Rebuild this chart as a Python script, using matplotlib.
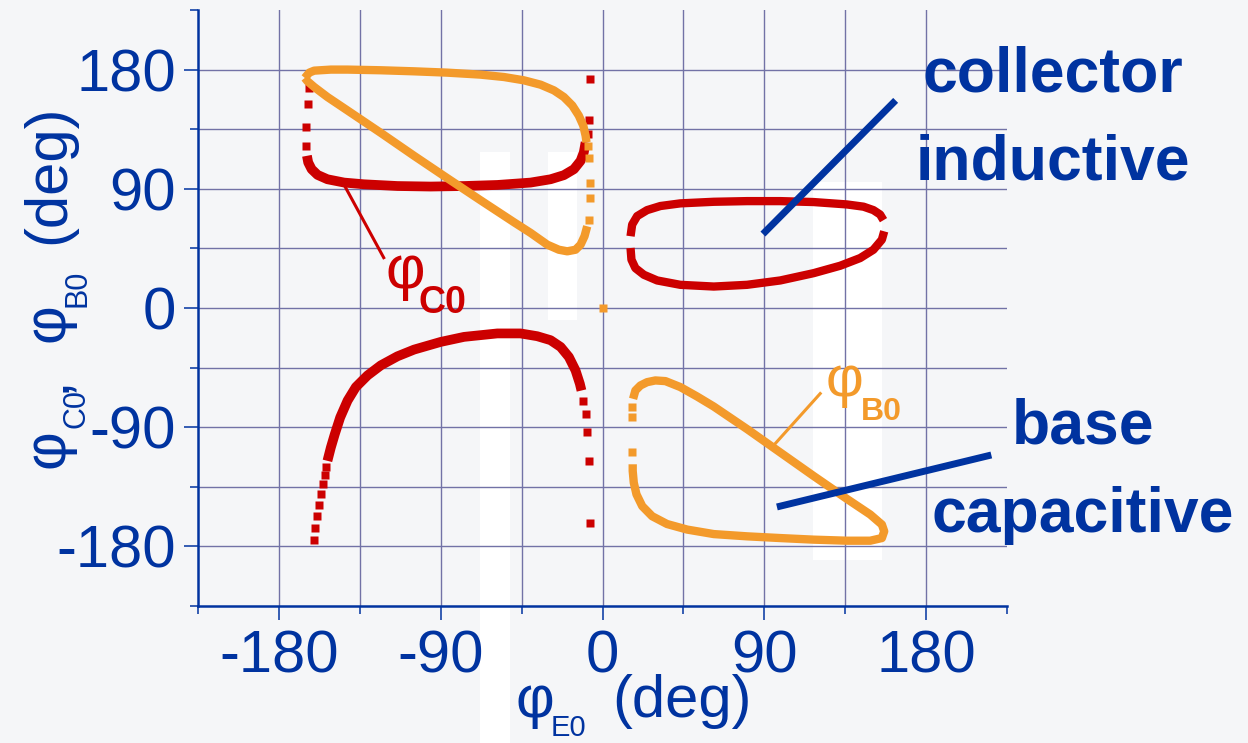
import numpy as np
import matplotlib
matplotlib.use("Agg")
import matplotlib.pyplot as plt
from matplotlib.patches import Rectangle

plt.rcParams['font.family'] = ['Liberation Sans', 'DejaVu Sans']
plt.rcParams['axes.unicode_minus'] = False

W, H = 1248, 743
BLUE = '#0033a0'
RED = '#cc0000'
ORANGE = '#f39a2b'
GRID = '#7272a6'
BG = '#f5f6f8'

# ---- data (deg) ----
# phi_C0, upper-left branch (dense part) + sparse dots
c0_ul_x = [-164.4, -163.7, -161.8, -158.5, -153.0, -143.7, -132.6, -114.1, -95.6, -77.0,
           -58.5, -40.0, -28.9, -21.5, -15.9, -12.2, -10.4, -9.4]
c0_ul_y = [114.9, 109.9, 104.8, 100.5, 97.2, 94.7, 93.4, 92.1, 91.7, 92.1,
           92.9, 94.7, 97.2, 100.3, 104.8, 111.1, 117.5, 125.1]
c0_ul_dots_x = [-164.8, -164.8, -163.9, -163.2, -8.1, -7.6, -6.7]
c0_ul_dots_y = [122.5, 137.0, 154.0, 166.0, 131.4, 142.3, 173.2]

# phi_C0, lower-left branch
c0_ll_x = [-153.0, -151.1, -148.9, -145.9, -141.8, -137.2, -130.7, -123.3, -114.1, -104.8,
           -90.0, -77.0, -58.5, -45.6, -36.3, -28.9, -23.3, -18.7, -15.0, -12.6, -11.7]
c0_ll_y = [-115.4, -105.3, -95.2, -82.6, -69.9, -59.7, -50.9, -43.3, -36.5, -31.4,
           -25.6, -21.8, -19.2, -19.2, -21.3, -24.3, -29.4, -37.0, -47.1, -57.2, -62.3]
c0_ll_dots_x = [-160.7, -159.8, -158.7, -157.8, -156.7, -155.6, -154.6, -153.7,
                -10.6, -9.4, -8.5, -7.6, -6.7]
c0_ll_dots_y = [-175.4, -165.8, -156.7, -148.4, -140.8, -133.1, -126.3, -119.8,
                -69.9, -80.0, -93.9, -115.7, -162.5]

# phi_C0, right loop (upper and lower arcs)
c0_r_top_x = [156.3, 154.4, 150.7, 145.2, 135.9, 117.4, 98.9, 80.4, 61.9, 43.3,
              32.2, 24.8, 19.3, 16.5, 15.6]
c0_r_top_y = [66.3, 70.6, 73.9, 76.5, 78.2, 80.0, 80.7, 80.7, 80.2, 79.0,
              77.0, 73.9, 69.4, 63.0, 54.2]
c0_r_bot_x = [15.6, 16.1, 18.3, 23.0, 30.4, 43.3, 61.9, 80.4, 98.9, 117.4,
              132.2, 143.3, 150.7, 155.4, 156.7]
c0_r_bot_y = [45.3, 36.5, 30.1, 25.1, 20.8, 17.5, 16.2, 17.5, 20.8, 26.3,
              31.9, 37.7, 44.0, 51.6, 57.9]

# phi_B0, upper-left loop: top edge, sparse dots, return diagonal
b0_ul_a_x = [-165.6, -163.1, -160.4, -151.1, -141.8, -123.3, -104.8, -86.3, -67.8, -54.8,
             -43.7, -34.4, -27.0, -21.5, -16.8, -13.2, -10.7, -9.4, -8.9]
b0_ul_a_y = [173.7, 177.7, 179.2, 180.0, 180.0, 179.5, 178.7, 177.7, 176.2, 174.4,
             171.9, 168.6, 164.3, 159.3, 152.9, 145.3, 137.7, 130.1, 125.1]
b0_ul_dots_x = [-8.2, -7.6, -6.7, -6.7, -7.6]
b0_ul_dots_y = [122.5, 113.0, 94.7, 82.8, 66.8]
b0_ul_b_x = [-8.5, -10.0, -12.2, -15.0, -19.6, -24.3, -30.7, -40.0, -49.3, -67.8,
             -86.3, -104.8, -123.3, -141.8, -153.0, -160.4, -164.1, -165.6]
b0_ul_b_y = [61.7, 54.2, 47.8, 44.0, 42.8, 44.0, 47.8, 56.7, 64.8, 81.3,
             98.0, 114.9, 132.2, 149.1, 159.3, 166.9, 171.2, 173.7]
b0_origin_x = [0.0]
b0_origin_y = [0.0]

# phi_B0, lower-right loop
b0_lr_x = [17.0, 18.3, 21.1, 24.8, 29.4, 35.0, 43.3, 52.6, 61.9, 80.4,
           98.9, 117.4, 135.9, 148.9, 155.4, 156.7, 155.4, 148.9, 135.9, 117.4,
           98.9, 80.4, 61.9, 47.1, 35.9, 27.6, 22.1, 18.9, 17.4, 16.8, 16.8]
b0_lr_y = [-68.6, -62.3, -58.5, -56.0, -54.7, -55.2, -59.7, -66.8, -74.4, -91.4,
           -109.1, -126.8, -144.1, -155.9, -163.5, -168.6, -173.7, -175.7, -175.7, -174.9,
           -173.7, -172.4, -170.7, -167.3, -163.1, -157.2, -149.6, -140.7, -131.9, -123.0, -118.0]
b0_lr_dots_x = [16.5, 16.5, 16.5]
b0_lr_dots_y = [-75.0, -82.5, -109.1]

xticks = [-180, -90, 0, 90, 180]
xtick_labels = ['-180', '-90', '0', '90', '180']
yticks = [-180, -90, 0, 90, 180]
ytick_labels = ['-180', '-90', '0', '90', '180']


def fx(px):
    return px / W


def fy(py):
    return 1 - py / H


fig = plt.figure(figsize=(W / 100, H / 100), dpi=100, facecolor=BG)

# faint background watermark blocks (behind everything)
for (x0, y0, x1, y1) in [(480, 152, 510, 743), (548, 152, 577, 320), (813, 182, 882, 560)]:
    fig.patches.append(Rectangle((fx(x0), fy(y1)), fx(x1 - x0), (y1 - y0) / H,
                                 transform=fig.transFigure, facecolor='white',
                                 edgecolor='none', zorder=-5))

ax = fig.add_axes([fx(198), fy(606), fx(1007 - 198), (606 - 10) / H])
ax.set_facecolor('none')
ax.set_xlim(-225, 225)
ax.set_ylim(-225, 225)

for v in np.arange(-180, 181, 45):
    ax.axvline(v, color=GRID, lw=1.0, zorder=1)
    ax.axhline(v, color=GRID, lw=1.0, zorder=1)

ax.set_xticks(xticks)
ax.set_xticklabels(xtick_labels)
ax.set_yticks(yticks)
ax.set_yticklabels(ytick_labels)
ax.set_xticks(np.arange(-225, 226, 45), minor=True)
ax.set_yticks(np.arange(-225, 226, 45), minor=True)
ax.tick_params(which='major', direction='out', length=10, width=1.1, color=BLUE,
               labelsize=43, labelcolor=BLUE)
ax.tick_params(axis='x', which='major', pad=7)
ax.tick_params(axis='y', which='major', pad=6)
ax.tick_params(which='minor', direction='out', length=5.5, width=1.1, color=BLUE)
for side in ['top', 'right']:
    ax.spines[side].set_visible(False)
for side in ['left', 'bottom']:
    ax.spines[side].set_color(BLUE)
    ax.spines[side].set_linewidth(1.8)

LW = 6
MS = 5.5

# phi_C0 (red)
for xs, ys, lw in [(c0_ul_x, c0_ul_y, 7), (c0_ll_x, c0_ll_y, 7),
                   (c0_r_top_x, c0_r_top_y, LW), (c0_r_bot_x, c0_r_bot_y, LW)]:
    ax.plot(xs, ys, color=RED, lw=lw, solid_capstyle='butt', solid_joinstyle='round', zorder=3)
for xs, ys in [(c0_ul_dots_x, c0_ul_dots_y), (c0_ll_dots_x, c0_ll_dots_y)]:
    ax.plot(xs, ys, ls='none', marker='s', ms=MS, color=RED, mec='none', zorder=3)

# phi_B0 (orange)
for xs, ys in [(b0_ul_a_x, b0_ul_a_y), (b0_ul_b_x, b0_ul_b_y), (b0_lr_x, b0_lr_y)]:
    ax.plot(xs, ys, color=ORANGE, lw=LW, solid_capstyle='butt', solid_joinstyle='round', zorder=4)
for xs, ys in [(b0_ul_dots_x, b0_ul_dots_y), (b0_lr_dots_x, b0_lr_dots_y), (b0_origin_x, b0_origin_y)]:
    ax.plot(xs, ys, ls='none', marker='s', ms=MS, color=ORANGE, mec='none', zorder=4)

# leader lines
ax.plot([-143.9, -121.7], [93.4, 38.0], color=RED, lw=2.2, zorder=3)
ax.plot([95.0, 121.1], [-104.0, -64.6], color=ORANGE, lw=2.2, zorder=4)
ax.plot([90.6, 161.7], [57.7, 154.9], color=BLUE, lw=5, zorder=5, clip_on=False)
ax.plot([98.9, 214.4], [-149.6, -111.6], color=BLUE, lw=5, zorder=5, clip_on=False)

# series labels
fig.text(fx(386), fy(288), 'φ', fontsize=44, color=RED, va='baseline')
fig.text(fx(419), fy(313), 'C0', fontsize=27, color=RED, fontweight='bold', va='baseline')
fig.text(fx(826), fy(396), 'φ', fontsize=42, color=ORANGE, va='baseline')
fig.text(fx(861), fy(420), 'B0', fontsize=23, color=ORANGE, fontweight='bold', va='baseline')

for txt, x, y in [('collector', 1053, 92), ('inductive', 1053, 180),
                  ('base', 1083, 443), ('capacitive', 1083, 532)]:
    fig.text(fx(x), fy(y), txt, fontsize=45, fontweight='bold', color=BLUE,
             ha='center', va='baseline')

# x axis label
fig.text(fx(516), fy(717), 'φ', fontsize=43, color=BLUE, va='baseline')
fig.text(fx(551), fy(736), 'E0', fontsize=21, color=BLUE, va='baseline')
fig.text(fx(612), fy(717), '(deg)', fontsize=43, color=BLUE, va='baseline')

# y axis label (rotated pieces)
for txt, x, y, size in [('φ', 64, 468, 43), ('C0', 84, 428, 22), (',', 64, 392, 43),
                        ('φ', 64, 342, 43), ('B0', 86, 307, 22), ('(deg)', 64, 244, 43)]:
    fig.text(fx(x), fy(y), txt, fontsize=size, color=BLUE, rotation=90,
             rotation_mode='anchor', ha='left', va='baseline')

fig.savefig('out.png', dpi=100, facecolor=BG)
